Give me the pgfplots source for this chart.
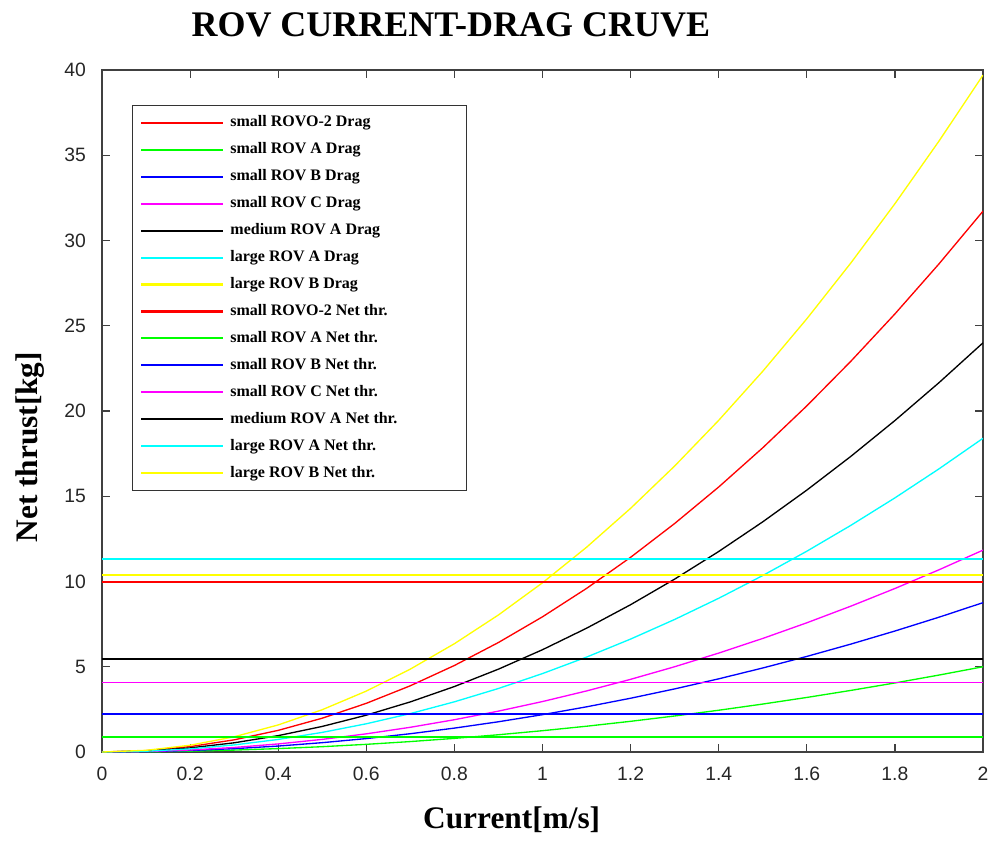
\documentclass[border=0pt]{standalone}
\usepackage{fontspec}
\setmainfont{Liberation Serif}
\newfontfamily\ticksans{Liberation Sans}
\usepackage{pgfplots}
\pgfplotsset{compat=1.18}
\usepackage{pgfplotstable}
\definecolor{cR}{RGB}{255,0,0}
\definecolor{cG}{RGB}{0,255,0}
\definecolor{cB}{RGB}{0,0,255}
\definecolor{cM}{RGB}{255,0,255}
\definecolor{cK}{RGB}{0,0,0}
\definecolor{cC}{RGB}{0,255,255}
\definecolor{cY}{RGB}{255,255,0}

\pgfplotstableread{
v    red    green  blue   mag    blk   cyan   yel
0.0  0      0      0      0      0     0      0
0.1  0.079  0.0125 0.022  0.030  0.06  0.046  0.099
0.2  0.317  0.05   0.088  0.118  0.24  0.184  0.397
0.3  0.714  0.1125 0.197  0.266  0.54  0.414  0.893
0.4  1.269  0.2    0.350  0.474  0.96  0.736  1.588
0.5  1.983  0.3125 0.548  0.740  1.50  1.150  2.481
0.6  2.855  0.45   0.788  1.066  2.16  1.656  3.573
0.7  3.886  0.6125 1.073  1.450  2.94  2.254  4.863
0.8  5.075  0.8    1.402  1.894  3.84  2.944  6.352
0.9  6.423  1.0125 1.774  2.398  4.86  3.726  8.039
1.0  7.930  1.25   2.190  2.960  6.00  4.600  9.925
1.1  9.595  1.5125 2.650  3.582  7.26  5.566  12.009
1.2  11.419 1.8    3.154  4.262  8.64  6.624  14.292
1.3  13.402 2.1125 3.701  5.002  10.14 7.774  16.773
1.4  15.543 2.45   4.292  5.802  11.76 9.016  19.453
1.5  17.843 2.8125 4.928  6.660  13.50 10.350 22.331
1.6  20.301 3.2    5.606  7.578  15.36 11.776 25.408
1.7  22.918 3.6125 6.329  8.554  17.34 13.294 28.683
1.8  25.693 4.05   7.096  9.590  19.44 14.904 32.157
1.9  28.627 4.5125 7.906  10.686 21.66 16.606 35.829
2.0  31.720 5.0    8.760  11.840 24.00 18.400 39.700
}\dragtable

\begin{document}
\begin{tikzpicture}
\useasboundingbox (-76.5pt,-66pt) rectangle (666.75pt,564pt);
\begin{axis}[
  scale only axis,
  width=660.75pt, height=511.5pt,
  xmin=0, xmax=2, ymin=0, ymax=40,
  xtick={0,0.2,0.4,0.6,0.8,1,1.2,1.4,1.6,1.8,2},
  ytick={0,5,10,15,20,25,30,35,40},
  xticklabels={0,0.2,0.4,0.6,0.8,1,1.2,1.4,1.6,1.8,2},
  tick align=inside,
  major tick length=6pt,
  axis line style={draw=black!75, line width=0.9pt},
  every tick/.style={draw=black!75, line width=0.9pt},
  /pgf/number format/assume math mode=true,
  ticklabel style={font=\ticksans\fontsize{14.5}{16}\selectfont, text=black!85},
  xticklabel style={yshift=-7.5pt},
  yticklabel style={xshift=-8.5pt},
  clip mode=individual,
  every axis plot/.append style={line width=1pt},
  legend style={at={(rel axis cs:0.0337,0.9487)}, anchor=north west,
    draw=black!80, line width=0.9pt,
    font=\bfseries\fontsize{12}{14}\selectfont,
    inner xsep=6pt, inner ysep=7.5pt,
    row sep=9.2pt, column sep=4.5pt,
    nodes={inner sep=0pt, text height=8.5pt, text depth=2.5pt}},
  legend cell align=left,
  legend image code/.code={\draw[#1, line width=1.6pt] (0pt,0pt) -- (61.5pt,0pt);},
]
\addplot[cR]  table[x=v,y=red]   {\dragtable};
\addlegendentry{\makebox[171pt][l]{small ROVO-2 Drag}}
\addplot[cG]  table[x=v,y=green] {\dragtable};
\addlegendentry{small ROV A Drag}
\addplot[cB]  table[x=v,y=blue]  {\dragtable};
\addlegendentry{small ROV B Drag}
\addplot[cM]  table[x=v,y=mag]   {\dragtable};
\addlegendentry{small ROV C Drag}
\addplot[cK]  table[x=v,y=blk]   {\dragtable};
\addlegendentry{medium ROV A Drag}
\addplot[cC]  table[x=v,y=cyan]  {\dragtable};
\addlegendentry{large ROV A Drag}
\addplot[cY]  table[x=v,y=yel]   {\dragtable};
\addlegendentry{large ROV B Drag}

\addplot[cR]  coordinates {(0,9.97) (2,9.97)};
\addlegendentry{small ROVO-2 Net thr.}
\addplot[cG]  coordinates {(0,0.88) (2,0.88)};
\addlegendentry{small ROV A Net thr.}
\addplot[cB]  coordinates {(0,2.23) (2,2.23)};
\addlegendentry{small ROV B Net thr.}
\addplot[cM]  coordinates {(0,4.08) (2,4.08)};
\addlegendentry{small ROV C Net thr.}
\addplot[cK]  coordinates {(0,5.45) (2,5.45)};
\addlegendentry{medium ROV A Net thr.}
\addplot[cC]  coordinates {(0,11.32) (2,11.32)};
\addlegendentry{large ROV A Net thr.}
\addplot[cY]  coordinates {(0,10.38) (2,10.38)};
\addlegendentry{large ROV B Net thr.}

\node[font=\bfseries\fontsize{27}{31}\selectfont] at (rel axis cs:0.396,1.066) {ROV CURRENT-DRAG CRUVE};
\node[font=\bfseries\fontsize{23.5}{28}\selectfont] at (rel axis cs:0.465,-0.1) {Current[m/s]};
\node[font=\bfseries\fontsize{23.5}{28}\selectfont, rotate=90] at (rel axis cs:-0.082,0.447) {Net thrust[kg]};
\end{axis}
\end{tikzpicture}
\end{document}
